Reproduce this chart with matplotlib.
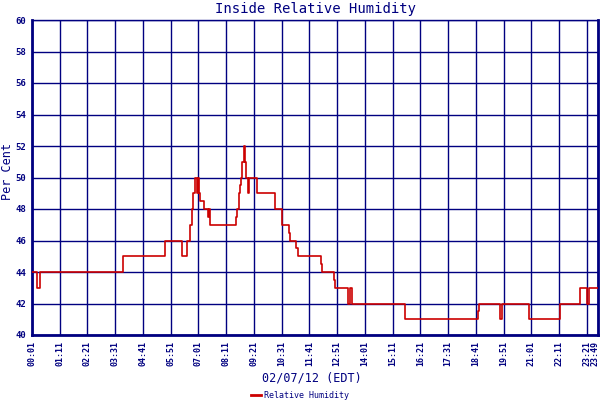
import matplotlib
matplotlib.use("Agg")
import matplotlib.pyplot as plt
import matplotlib.transforms as mtransforms

# change points: minutes after midnight, value from that minute on
minutes = [1, 13, 20, 231, 337, 379, 392, 399, 405, 407, 411, 418, 421, 422,
           426, 435, 445, 447, 449, 515, 518, 522, 525, 529, 532, 535, 538,
           540, 546, 548, 569, 613, 632, 649, 653, 668, 671, 729, 733, 763,
           765, 797, 804, 809, 942, 1125, 1130, 1183, 1187, 1255, 1332, 1383,
           1401, 1406, 1429]
humidity = [44, 43, 44, 45, 46, 45, 46, 47, 48, 49, 50, 49, 50, 49,
            48.5, 48, 47.5, 48, 47, 47.5, 48, 49, 49.5, 50, 51, 52, 51,
            50, 49, 50, 49, 48, 47, 46.5, 46, 45.5, 45, 44.5, 44, 43.5,
            43, 42, 43, 42, 41, 41.5, 42, 41, 42, 41, 42, 43,
            42, 43, 43]

tick_minutes = [1, 71, 141, 211, 281, 351, 421, 491, 561, 631, 701, 771, 841,
                911, 981, 1051, 1121, 1191, 1261, 1331, 1401, 1429]
tick_labels = ["00:01", "01:11", "02:21", "03:31", "04:41", "05:51", "07:01",
               "08:11", "09:21", "10:31", "11:41", "12:51", "14:01", "15:11",
               "16:21", "17:31", "18:41", "19:51", "21:01", "22:11", "23:21",
               "23:49"]
y_ticks = list(range(40, 61, 2))

navy = "#000080"
red = "#cc0000"
mono = "DejaVu Sans Mono"

fig = plt.figure(figsize=(6, 4), dpi=100)
ax = fig.add_axes([32 / 600, 1 - 335 / 400, 566 / 600, 315 / 400])

ax.plot(minutes, humidity, drawstyle="steps-post", color=red, linewidth=1.2,
        label="Relative Humidity", zorder=3)

ax.set_xlim(1, 1429)
ax.set_ylim(40, 60)
ax.set_xticks(tick_minutes)
ax.set_xticklabels(tick_labels, rotation=90, fontsize=6, family=mono,
                   fontweight="bold", color=navy)
ax.set_yticks(y_ticks)
ax.set_yticklabels([str(v) for v in y_ticks], fontsize=6.5, family=mono,
                   fontweight="bold", color=navy)
ax.tick_params(length=0, pad=4)
ax.grid(True, color=navy, linewidth=1.0)
ax.set_axisbelow(True)

# last label sits on the right edge; nudge it inside the figure
last = ax.get_xticklabels()[-1]
last.set_transform(last.get_transform() +
                   mtransforms.ScaledTranslation(-3 / 100, 0, fig.dpi_scale_trans))

for side in ["left", "bottom", "right"]:
    ax.spines[side].set_color(navy)
    ax.spines[side].set_linewidth(2.0)
ax.spines["top"].set_color(navy)
ax.spines["top"].set_linewidth(1.0)

fig.text(316 / 600, 1 - 9 / 400, "Inside Relative Humidity", ha="center",
         va="center", family=mono, fontsize=10, color=navy)
fig.text(8 / 600, 1 - 172 / 400, "Per Cent", rotation=90, ha="center",
         va="center", family=mono, fontsize=8.5, color=navy)
fig.text(312 / 600, 1 - 378 / 400, "02/07/12 (EDT)", ha="center",
         va="center", family=mono, fontsize=8.5, color=navy)

leg = fig.legend(loc="center", bbox_to_anchor=(300 / 600, 1 - 395 / 400),
                 frameon=False, prop={"family": mono, "size": 6},
                 handlelength=1.2, handletextpad=0.3, borderpad=0)
for t in leg.get_texts():
    t.set_color(navy)
for h in leg.get_lines():
    h.set_linewidth(2)

fig.savefig("out.png", dpi=100)
